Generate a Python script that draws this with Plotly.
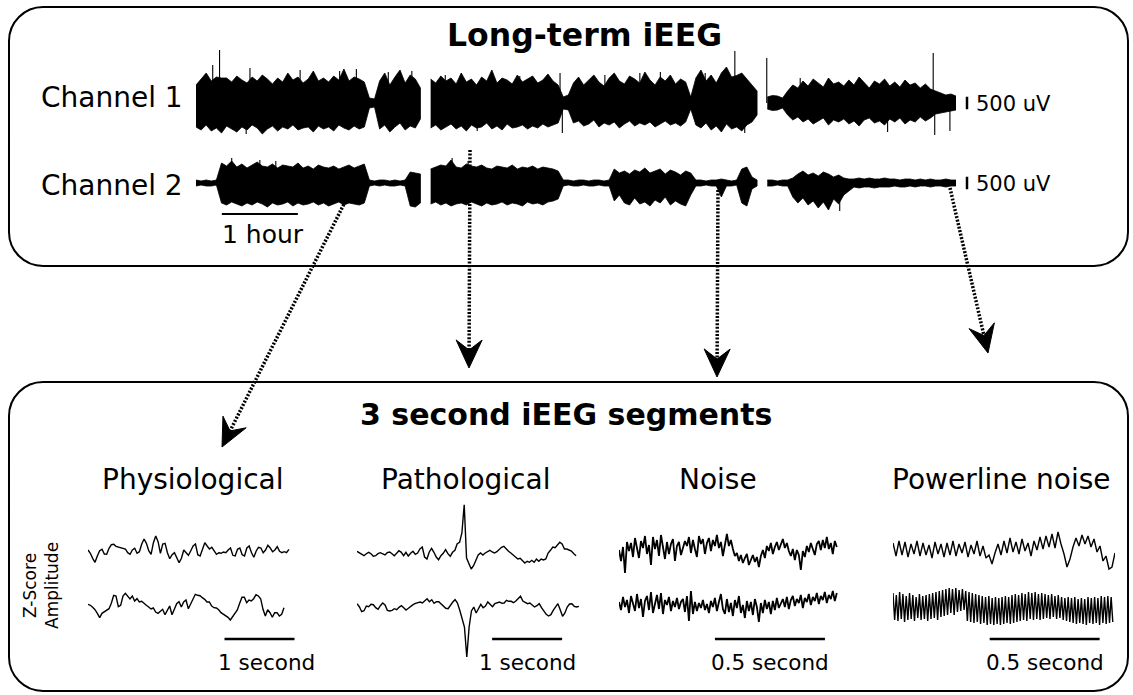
import math
import plotly.graph_objects as go

W, H = 1133, 695

# ---------------------------------------------------------------- data
# Long-term iEEG: per-bin max / min amplitude (uV), 150 bins over 10 hours (None = data gap)
HOURS_TOTAL = 10.0
CH1_UPPER_UV = [720, 960, 1200, 880, 1040, 1000, 1000, 840, 1080, 920, 800, 1040, 880, 1120, 960, 760, 1000, 840, 1200, 920,
                1040, 800, 960, 1280, 880, 1000, 840, 1080, 920, 1360, 880, 1040, 960, 840,
                200, 160,
                880, 1200, 720, 1040, 1320, 800, 1120, 960, 600,
                None,
                960, 800, 1080, 880, 1000, 760, 1200, 840, 960, 720, 1040, 880, 1320, 800, 1000, 920, 760, 1120, 840, 960,
                1080, 800, 920, 1160, 880, 720,
                240, 320,
                800, 1040, 720, 920, 1120, 840, 680, 1000, 1200, 880, 760, 1080, 960, 800, 1240, 920, 720, 1040, 880, 1120,
                760, 960, 840,
                240,
                1000, 1320, 880, 1120, 800, 1200, 1440, 1040, 1100, 1200, 960, 720, 480,
                None,
                240, 300, 280, 200,
                480, 720, 600, 880, 680, 960, 800, 640, 1000, 760, 840, 680, 920, 720, 1040, 800, 600, 880, 760, 960,
                680, 840, 640, 920, 720, 800, 600, 760, 560,
                480,
                400, 320, 360, 280]
CH1_LOWER_UV = [-960, -1080, -880, -1120, -1000, -1200, -920, -1040, -1160, -960, -1080, -880, -1000, -1240, -1040, -920,
                -1120, -960, -1040, -880, -1080, -1000, -960, -1160, -920, -1040, -960, -1120, -880, -1000, -1080, -920,
                -1040, -960,
                -200, -160,
                -1040, -880, -1160, -960, -800, -1080, -920, -1000, -640,
                None,
                -1000, -880, -1080, -960, -840, -1040, -920, -1120, -880, -1000, -960, -800, -1040, -920, -1080, -840,
                -1000, -960, -880, -1040, -920, -1000, -840, -960, -880, -800,
                -240, -280,
                -800, -720, -920, -840, -680, -960, -800, -880, -760, -1000, -840, -720, -920, -800, -880, -760, -960,
                -840, -720, -880, -800, -920, -760,
                -240,
                -880, -1000, -800, -1080, -920, -1160, -840, -1040, -960, -1120, -880, -760, -480,
                None,
                -240, -300, -280, -200,
                -480, -680, -560, -760, -640, -840, -720, -600, -880, -680, -760, -640, -840, -720, -920, -680, -600,
                -800, -720, -880, -640, -760, -600, -840, -680, -760, -560, -720, -600,
                -440,
                -400, -360, -320, -280]
# isolated spikes on top of the envelope: (hours, uV)
CH1_SPIKE_H = [0.22, 0.31, 0.71, 0.66, 1.37, 1.89, 2.11, 2.53, 2.84, 3.28, 3.70, 4.26, 4.79, 4.82, 5.38, 5.84, 6.11, 6.70,
               7.09, 7.22, 7.51, 7.95, 8.74, 9.10, 9.70, 9.72, 9.92]
CH1_SPIKE_UV = [1520, 2120, 1400, -1240, 1320, 1280, 1360, 1240, 1280, 1120, -1120, 1080, 1200, -1200, 1120, 1200, 1240,
                1200, 2080, -1200, 1800, 1000, 1000, -1160, 2000, -1280, -1120]
CH2_UPPER_UV = [120, 80, 120, 80, 120,
                800, 680, 880, 640, 760, 600, 720, 840, 680, 640, 760, 600, 720, 680, 640, 800, 600, 680, 560, 720, 640,
                600, 680, 560, 640, 720, 600, 680, 760,
                120, 80, 120, 120, 80, 120, 80, 120,
                440, 400, 360,
                None,
                560, 640, 720, 680, 920, 640, 600, 760, 680, 640, 720, 600, 560, 680, 640, 600, 720, 560, 640, 600, 680,
                560, 640, 600, 560, 480,
                120, 120, 80, 120, 120, 80, 120, 120, 80, 120,
                560, 400, 480, 360, 520, 440, 600, 400, 480, 560, 360, 520, 440, 320, 480, 400,
                120, 120, 80, 120, 120, 160, 120, 80, 120,
                560, 640, 240,
                120,
                None,
                120, 120, 80, 120, 120,
                200, 360, 480, 320, 400, 280, 440, 360, 240, 320, 200, 160,
                160, 200, 160, 200, 160, 160, 200, 160, 160, 120, 160, 160, 120, 160, 120, 160, 120, 120, 160, 120, 120]
CH2_LOWER_UV = [-120, -80, -120, -120, -80,
                -800, -880, -760, -840, -920, -800, -880, -760, -840, -960, -800, -880, -840, -760, -920, -800, -880,
                -840, -760, -880, -800, -920, -840, -760, -880, -800, -840, -880, -800,
                -120, -80, -120, -80, -120, -120, -80, -120,
                -920, -960, -800,
                None,
                -840, -760, -880, -800, -920, -840, -800, -880, -760, -840, -920, -800, -880, -840, -760, -880, -800,
                -840, -920, -760, -840, -800, -880, -760, -720, -640,
                -120, -80, -120, -120, -80, -120, -120, -80, -120, -120,
                -720, -480, -800, -880, -600, -840, -760, -920, -680, -800, -560, -880, -720, -840, -920, -480,
                -120, -120, -80, -120, -120, -560, -120, -120, -80,
                -800, -920, -240,
                -120,
                None,
                -120, -120, -80, -120, -120,
                -560, -800, -600, -880, -720, -1000, -760, -1080, -640, -840, -480, -320,
                -160, -200, -160, -160, -200, -160, -160, -160, -120, -160, -160, -120, -160, -120, -120, -160, -120,
                -120, -160, -120, -120]
CH2_SPIKE_H = [0.47, 0.84, 1.05, 3.37, 3.58, 8.47]
CH2_SPIKE_UV = [1000, 920, 880, 1000, 880, -1120]
CHANNEL_NAMES = ["Channel 1", "Channel 2"]
SCALE_UV = 500
SCALE_HOURS = 1

# 3 second iEEG segments (z-score amplitude), evenly sampled
PHYS_TOP = [-0.1, -0.43, -0.93, -1.33, -0.7, -0.17, -0.03, -0.5, -0.53, 0.07, 0.43, 0.47, 0.27, 0.2, 0.17, 0.07, 0,
            -0.37, -0.53, -0.1, 0.07, -0.43, -0.27, 0.5, 1.0, 0.57, -0.17, -0.53, 0.63, 1.3, 0.73, -0.43, 0.5, 0.57,
            -0.37, -0.97, -0.57, -0.37, -0.83, -1.37, -0.93, -0.1, -0.37, -0.63, -0.17, 0.3, 0.5, -0.57, -0.7, 0.07,
            0.63, 0.3, 0, 0.17, -0.17, -0.53, -0.37, -0.43, -0.3, -0.37, -0.1, 0.1, -0.63, -0.7, -0.03, 0.1, -0.57,
            -0.7, 0.1, 0.3, -0.37, -0.83, -0.2, 0.17, 0.1, -0.37, -0.1, 0.37, 0.1, -0.27, -0.1, 0.23, -0.23, -0.37,
            -0.27, -0.37, -0.03]
PHYS_BOTTOM = [0.17, 0.07, -0.13, -0.37, -0.73, -1.17, -0.73, -0.57, -0.5, -0.27, 0.27, 1.07, 1.0, -0.07, 0.07, 1.0,
               1.27, 0.93, 0.7, 1.0, 0.5, 0.73, 0.4, 0.47, 0.23, 0.07, -0.1, -0.3, -0.2, -0.6, -0.73, -0.57, -0.33,
               -0.87, -0.4, 0, -0.87, -0.27, 0.23, 0.43, -0.1, 0.4, 0.6, -0.27, 0.23, 0.67, 1.17, 1.07, 1.03, 0.83,
               0.67, 0.4, 0.4, 0, -0.17, -0.2, -0.37, -0.67, -0.8, -1.0, -1.13, -1.4, -1.07, -0.73, -0.4, 0.27, 0.87,
               0.87, 0.33, 0.6, 0.5, 0.73, 1.13, 1.0, 0.73, -0.33, -1.0, -0.37, -0.67, -1.13, -0.67, -0.67, -1.0,
               -0.83, -0.17]
PATH_TOP = [0.17, 0.03, -0.13, -0.27, -0.07, 0.07, -0.07, -0.33, -0.27, -0.07, 0.03, -0.13, -0.2, 0.03, 0.1, -0.07,
            -0.27, -0.03, 0.23, 0.07, -0.27, 0.07, -0.3, -0.03, 0.17, -0.13, 0, 0.4, 0.6, -0.4, -0.6, 0.1, 0.47, 0.07,
            -0.4, -0.67, -0.27, -0.03, 0.33, -0.07, -0.33, 0.07, 0.27, 0.93, 1.07, 2.0, 4.83, -0.5, -1.0, -1.6, -1.27,
            -0.67, -0.2, 0, -0.2, 0, 0.17, 0.27, 0.1, 0, 0.13, 0.4, 0.57, 0.67, 0.4, 0.17, 0, -0.23, -0.37, -0.6,
            -0.53, -0.8, -1.0, -0.83, -0.93, -0.73, -0.93, -0.6, -0.83, -0.6, -0.7, -0.6, 0, 0.27, 0.6, 0.53, 0.83,
            1.07, 0.9, 0.4, 0.4, 0.33, 0.2, -0.07, -0.27]
PATH_BOTTOM = [0.33, 0.03, -0.47, -0.37, 0.1, 0.03, 0.27, 0.23, -0.07, -0.23, 0.13, 0.4, 0.2, -0.33, -0.4, -0.33,
               -0.17, -0.27, -0.03, 0.13, -0.07, -0.3, -0.13, 0.1, 0.23, 0.37, 0.4, 0.5, 0.4, 0.67, 0.83, 0.53, 0.73,
               0.37, 0.53, 0.53, 0.3, 0.07, -0.13, -0.17, 0.2, 0.5, 0.73, 0.4, -0.33, -1.27, -2.0, -5.0, -2.0, -0.4, 0,
               -0.6, -0.17, 0.27, -0.07, 0.1, 0.5, 0.23, 0.03, 0.33, 0.4, 0.5, 0.37, 0.4, 0.67, 0.57, 0.57, 0.43, 0.6,
               0.8, 1.07, 0.6, 0.43, 0.33, 0.4, 0.2, 0, 0.13, 0.33, -0.07, -0.43, -0.73, -0.9, -0.77, -0.33, 0, 0.33,
               -0.27, -0.93, -0.6, 0, 0.3, 0.33, 0.07, 0, 0.07]
NOISE_TOP = [0.2, -0.9, 0.5, -2.1, 1.0, 0.1, 0.9, -0.5, 1.4, 0.2, -0.6, 1.1, 0.4, 1.6, -0.2, 0.7, -1.3, 1.5, 0.3, 1.2,
             -0.4, 1.7, 0.5, -0.7, 1.0, -0.2, 0.8, 1.3, -0.9, 0.6, 1.0, -0.3, 0.4, 1.1, 0.6, 1.5, -0.1, 1.2, 0.3, -0.5,
             1.6, 0.8, 1.3, -0.2, 0.9, 1.4, 0.1, 1.2, 0.6, 1.7, 0.4, 1.0, -0.4, 0.8, 1.8, 0.6, 1.2,
             0.3, -0.4, -0.1, -0.9, -0.3, -1.1, -0.6, -0.2, -1.3, -0.7, -0.3, -1.0, -0.5, -1.5, -0.4,
             0.2, -0.6, 0.6, 0.1, 0.9, -0.2, 0.5, 1.0, 0.2, 0.8, 1.3, 0.4, 0.9, 0.1, -0.4, 0.3, -0.8, 0.2, -0.3, -1.8,
             0.1, -0.5, 0.6, 0.0, 0.9, 0.3, -0.3, 0.8, 1.1, 0.2, 1.2, 0.4, 1.5, 0.3, 0.9, -0.2, 1.1, 0.5]
NOISE_BOTTOM = [0.3, -0.5, 0.8, -0.2, 0.5, -0.8, 0.9, 0.1, -0.6, 1.1, -0.3, 0.6, -1.2, 0.4, 0.9, -0.5, 1.3, -0.8, 0.2,
                1.0, -0.4, 1.2, -0.9, 0.5, 0.0, 0.8, -0.6, 0.4, -0.2, 0.7, -0.4, 0.3, 0.6, -0.7, 0.9, -1.6, 1.4, -0.9,
                0.3, -0.6, 0.2, -0.3, 0.5, -0.5, 0.1, -0.8, 0.4, -0.2, 0.7, -0.6, 0.3, 1.1, -0.4, -0.9, 0.6, -0.7, 0.2,
                -1.1, 0.5, -0.3, 0.9, -0.8, 0.0, -1.3, 0.4, -0.6, 0.3, -1.0, 0.6, -0.2, -1.7, 0.2, -0.8, 0.5, -0.4, 0.3,
                -0.9, 0.4, -0.5, 0.7, -0.3, 0.2, 0.6, -0.2, 0.8, -0.4, 0.5, 0.9, -0.1, 0.6, 0.2, 1.0, -0.3, 0.7, 0.3,
                1.1, 0.0, 0.8, 0.4, 1.2, 0.1, 0.9, 0.5, 1.3, 0.2, 1.0, 0.6, 1.4, 0.4, 1.2]
POWER_TOP = [0.7, -0.6, 0.9, -0.5, 0.8, -0.7, 0.6, -0.4, 0.9, -0.6, 0.7, -0.5, 0.5, -0.8, 0.8, -0.4, 0.6, -0.7, 0.7,
             -0.5, 0.9, -0.6, 0.6, -0.3, 0.8, -0.7, 0.5, -0.4, 0.9, -0.6, 0.4, -0.8,
             -0.5, -1.4, -0.3,
             0.6, -0.5, 0.9, -0.3, 1.2, -0.2, 0.8, -0.4, 1.1, -0.1, 0.7, -0.6, 0.9, 0.0, 1.3, 0.1, 1.4, 0.3, 1.6, 0.2,
             1.8, 0.6,
             -0.4, -1.7, -0.9,
             0.3, 1.2, 0.4, 1.5, 0.6, 1.4, 0.3, 1.1,
             -0.2, 0.4, -1.1, -0.6, -1.9, -1.7, -0.3]
POWER_BOTTOM = [1.4, -1.3, 1.2, -1.4, 1.5, -1.2, 1.3, -1.5, 1.1, -1.3, 1.4, -1.2, 1.2, -1.4, 1.0, -1.1, 1.3, -1.3, 1.1,
                -1.2, 1.2, -1.4, 1.3, -1.2, 1.4, -1.1, 1.5, -1.3, 1.6, -1.0, 1.7, -0.9,
                1.8, -0.8, 1.9, -0.6, 1.8, -0.8, 1.9, -0.5, 1.7, -0.4, 1.8, -0.3,
                1.6, -1.4, 1.5, -1.5, 1.4, -1.6, 1.3, -1.5, 1.2, -1.7, 1.1, -1.6, 1.0, -1.8, 1.1, -1.7, 0.9, -1.8, 1.0,
                -1.7, 0.9, -1.8, 1.0, -1.7, 1.1, -1.6, 1.0, -1.7, 1.2, -1.6, 1.3, -1.5, 1.2, -1.4, 1.4, -1.3, 1.3, -1.4,
                1.5, -1.2, 1.4, -1.3, 1.5, -1.2, 1.3, -1.3, 1.4, -1.2,
                1.3, -1.1, 1.2, -1.2, 1.3, -1.0, 1.1, -1.2, 1.2, -1.1, 1.0, -1.3, 0.9, -1.4, 1.0, -1.5,
                0.9, -1.6, 1.0, -1.7, 0.8, -1.6, 0.9, -1.7, 0.8, -1.8, 1.0, -1.6, 0.9, -1.7, 1.0, -1.6, 0.9, -1.8, 1.1,
                -1.6, 1.0, -1.7, 1.1, -1.6, 1.0, -1.5]

SEGMENT_TITLES = ["Physiological", "Pathological", "Noise", "Powerline noise"]
SEGMENT_TRACES = [(PHYS_TOP, PHYS_BOTTOM), (PATH_TOP, PATH_BOTTOM), (NOISE_TOP, NOISE_BOTTOM), (POWER_TOP, POWER_BOTTOM)]
SEGMENT_DURATIONS_S = [(2.87, 2.80), (3.13, 3.17), (0.99, 0.99), (1.01, 1.0)]
SCALEBAR_SECONDS = [1, 1, 0.5, 0.5]
SCALEBAR_LABELS = ["1 second", "1 second", "0.5 second", "0.5 second"]

# ---------------------------------------------------------------- layout constants (pixels)
FONT = "DejaVu Sans"
UV_PER_PX = 40.0
CH_X = (196, 956)
CH_CENTER_Y = [103, 183]
CH_HALF_PX = [58, 42]

PANEL_X = [(88, 298), (357, 581), (619, 839), (893, 1115)]
PANEL_T_RANGE = [3.0, 3.2, 1.0, 1.01]
PANEL_CENTERS = [(549, 606), (553, 607), (552, 605), (550, 607)]
PANEL_LW = [1.4, 1.4, 1.8, 1.4]
SB_START_S = [1.95, 1.93, 0.436, 0.44]
SB_Y = 639
TRACE_PX_PER_Z = 10.0
TRACE_HALF_PX = 60


def paper_x(p):
    return p / W


def paper_y(p):
    return 1 - p / H


fig = go.Figure()
layout = dict(
    width=W, height=H, margin=dict(l=0, r=0, t=0, b=0),
    paper_bgcolor="white", plot_bgcolor="rgba(0,0,0,0)", showlegend=False,
    xaxis=dict(domain=[0, 1], range=[0, W], visible=False, fixedrange=True),
    yaxis=dict(domain=[0, 1], range=[H, 0], visible=False, fixedrange=True),
)

# ---------------- long-term channels
CHANNELS = [(CH1_UPPER_UV, CH1_LOWER_UV, CH1_SPIKE_H, CH1_SPIKE_UV),
            (CH2_UPPER_UV, CH2_LOWER_UV, CH2_SPIKE_H, CH2_SPIKE_UV)]
for ci, (up, lo, sp_h, sp_uv) in enumerate(CHANNELS):
    ax = ci + 2
    n = len(up)
    t = [i * HOURS_TOTAL / (n - 1) for i in range(n)]
    cy, half = CH_CENTER_Y[ci], CH_HALF_PX[ci]
    layout[f"xaxis{ax}"] = dict(domain=[paper_x(CH_X[0]), paper_x(CH_X[1])], range=[0, HOURS_TOTAL],
                                visible=False, anchor=f"y{ax}")
    layout[f"yaxis{ax}"] = dict(domain=[paper_y(cy + half), paper_y(cy - half)],
                                range=[-half * UV_PER_PX, half * UV_PER_PX], visible=False, anchor=f"x{ax}")
    runs, cur = [], []
    for i in range(n):
        if up[i] is None:
            if cur:
                runs.append(cur)
            cur = []
        else:
            cur.append(i)
    if cur:
        runs.append(cur)
    for run in runs:
        xs = [t[i] for i in run] + [t[i] for i in reversed(run)]
        ys = [up[i] for i in run] + [lo[i] for i in reversed(run)]
        fig.add_trace(go.Scatter(x=xs, y=ys, xaxis=f"x{ax}", yaxis=f"y{ax}", mode="lines", fill="toself",
                                 fillcolor="black", line=dict(color="black", width=0.8),
                                 hoverinfo="skip"))
    # isolated spikes drawn as hair lines
    hx, hy = [], []
    for h, v in zip(sp_h, sp_uv):
        hx += [h, h, None]
        hy += [0, v, None]
    fig.add_trace(go.Scatter(x=hx, y=hy, xaxis=f"x{ax}", yaxis=f"y{ax}", mode="lines",
                             line=dict(color="black", width=1.1), hoverinfo="skip"))

# ---------------- segment panels
for p, (top, bottom) in enumerate(SEGMENT_TRACES):
    xa = 4 + p
    x0, x1 = PANEL_X[p]
    layout[f"xaxis{xa}"] = dict(domain=[paper_x(x0), paper_x(x1)], range=[0, PANEL_T_RANGE[p]], visible=False,
                                anchor=f"y{xa}")
    for k, series in enumerate((top, bottom)):
        ya = 4 + p + 4 * k
        cy = PANEL_CENTERS[p][k]
        layout[f"yaxis{ya}"] = dict(domain=[paper_y(cy + TRACE_HALF_PX), paper_y(cy - TRACE_HALF_PX)],
                                    range=[-TRACE_HALF_PX / TRACE_PX_PER_Z, TRACE_HALF_PX / TRACE_PX_PER_Z],
                                    visible=False, anchor=f"x{xa}")
        dur = SEGMENT_DURATIONS_S[p][k]
        n = len(series)
        t = [i * dur / (n - 1) for i in range(n)]
        fig.add_trace(go.Scatter(x=t, y=series, xaxis=f"x{xa}", yaxis=f"y{ya}", mode="lines",
                                 line=dict(color="black", width=PANEL_LW[p]), hoverinfo="skip"))

# ---------------- shapes
shapes = []


def rrect(x0, y0, x1, y1, r):
    k = 0.5523 * r
    return (f"M{x0 + r},{y0} L{x1 - r},{y0} C{x1 - r + k},{y0} {x1},{y0 + r - k} {x1},{y0 + r} "
            f"L{x1},{y1 - r} C{x1},{y1 - r + k} {x1 - r + k},{y1} {x1 - r},{y1} "
            f"L{x0 + r},{y1} C{x0 + r - k},{y1} {x0},{y1 - r + k} {x0},{y1 - r} "
            f"L{x0},{y0 + r} C{x0},{y0 + r - k} {x0 + r - k},{y0} {x0 + r},{y0} Z")


for box in [(9, 7, 1128, 266), (9, 382, 1128, 691)]:
    shapes.append(dict(type="path", path=rrect(*box, 34), xref="x", yref="y",
                       line=dict(color="black", width=2), fillcolor="rgba(0,0,0,0)", layer="below"))

ARROWS = [((347, 198), (222, 447)), ((470, 150), (469, 368)), ((718, 190), (717, 377)), ((950, 188), (988, 353))]
for (sx, sy), (tx, ty) in ARROWS:
    dx, dy = tx - sx, ty - sy
    nrm = math.hypot(dx, dy)
    ux, uy = dx / nrm, dy / nrm
    px_, py_ = -uy, ux
    L, hw, notch = 28, 13, 18
    bx, by = tx - ux * L, ty - uy * L
    c1 = (bx + px_ * hw, by + py_ * hw)
    c2 = (bx - px_ * hw, by - py_ * hw)
    nx, ny = tx - ux * notch, ty - uy * notch
    shapes.append(dict(type="line", x0=sx, y0=sy, x1=nx, y1=ny, xref="x", yref="y",
                       line=dict(color="black", width=3.5, dash="2px,1.6px")))
    shapes.append(dict(type="path", xref="x", yref="y",
                       path=f"M{tx},{ty} L{c1[0]},{c1[1]} L{nx},{ny} L{c2[0]},{c2[1]} Z",
                       fillcolor="black", line=dict(color="black", width=1)))

for ci in range(2):
    shapes.append(dict(type="line", xref="x", yref=f"y{ci + 2}", x0=967, x1=967,
                       y0=-SCALE_UV / 2, y1=SCALE_UV / 2, line=dict(color="black", width=2.5)))
shapes.append(dict(type="line", xref="x3", yref="y", x0=0.34, x1=0.34 + SCALE_HOURS, y0=214, y1=214,
                   line=dict(color="black", width=2)))
for p in range(4):
    shapes.append(dict(type="line", xref=f"x{4 + p}", yref="y", x0=SB_START_S[p],
                       x1=SB_START_S[p] + SCALEBAR_SECONDS[p], y0=SB_Y, y1=SB_Y,
                       line=dict(color="black", width=2.5)))

# ---------------- annotations
ann = []


def text(x, y, s, size, bold=False, xanchor="center", angle=0):
    ann.append(dict(x=x, y=y, xref="x", yref="y", text=s, showarrow=False, xanchor=xanchor, yanchor="middle",
                    textangle=angle,
                    font=dict(family=FONT, size=size, color="black", weight="bold" if bold else "normal")))


text(584, 35, "Long-term iEEG", 31.5, bold=True)
text(112, 97, CHANNEL_NAMES[0], 28)
text(112, 185, CHANNEL_NAMES[1], 28)
for cy in CH_CENTER_Y:
    text(974, cy + 1, f"{SCALE_UV} uV", 21, xanchor="left")
text(263, 234, f"{SCALE_HOURS} hour", 25)
text(566, 414, "3 second iEEG segments", 30, bold=True)
for p, title in enumerate(SEGMENT_TITLES):
    cx = [193, 465, 718, 1001][p]
    text(cx, 479, title, 28)
for p, lab in enumerate(SCALEBAR_LABELS):
    cx = [266, 527, 770, 1045][p]
    text(cx, 662, lab, 21.5)
text(41, 586, "Z-Score<br>Amplitude", 17, angle=-90)

layout["shapes"] = shapes
layout["annotations"] = ann
fig.update_layout(**layout)
fig.write_html("out.html")
